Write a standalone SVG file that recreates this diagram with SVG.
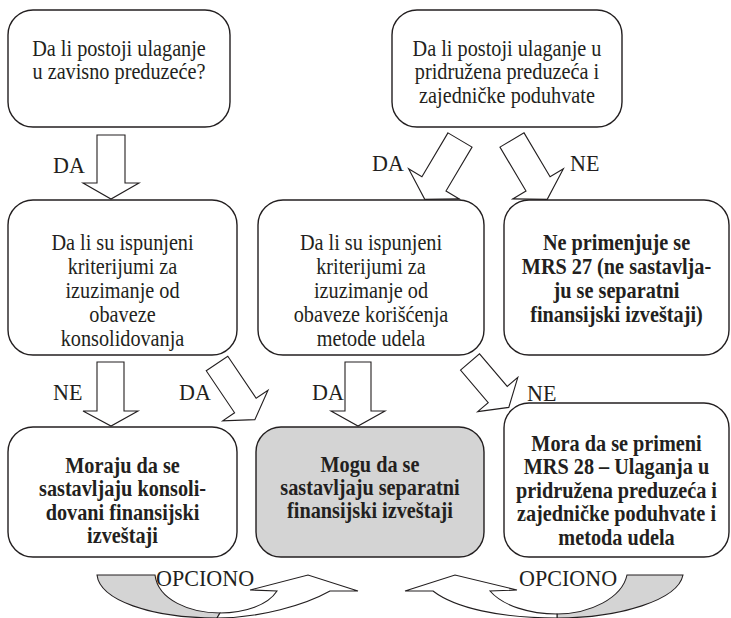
<svg xmlns="http://www.w3.org/2000/svg" width="731" height="618" viewBox="0 0 731 618">
<style>
.box{fill:#ffffff;stroke:#231f20;stroke-width:1.4}
.gray{fill:#d4d4d4}
.arr{fill:#ffffff;stroke:#231f20;stroke-width:1.1;stroke-linejoin:miter}
.carr-g{fill:#d4d4d4;stroke:#231f20;stroke-width:1.1}
.carr-w{fill:#ffffff;stroke:#231f20;stroke-width:1.1}
text{font-family:"Liberation Serif","Times New Roman",serif;font-size:22.5px;fill:#231f20}
.c{text-anchor:middle}
.b{font-weight:bold}
.lbl{font-size:24px}
</style>
<rect width="731" height="618" fill="#ffffff"/>
<g id="connectors">
  <polygon class="arr" points="97,135 125,135 125,183 139,183 111,199 83,183 97,183"/>
  <polygon class="arr" points="-14,0 14,0 14,51 29.5,51 0,69 -29.5,51 -14,51" transform="translate(460,140) rotate(30.7)"/>
  <polygon class="arr" points="-14,0 14,0 14,51 29.5,51 0,69 -29.5,51 -14,51" transform="translate(512,140) rotate(-30.7)"/>
  <polygon class="arr" points="97,362 124,362 124,411 138,411 111,426 83,411 97,411"/>
  <polygon class="arr" points="-13,0 13,0 13,50.7 27.3,50.7 0,67.7 -27.3,50.7 -13,50.7" transform="translate(217,363.5) rotate(-34)"/>
  <polygon class="arr" points="345,362 371,362 371,411 385,411 358,426 331,411 345,411"/>
  <polygon class="arr" points="-12.5,0 12.5,0 12.5,42.7 26.4,42.7 0,59.7 -26.4,42.7 -12.5,42.7" transform="translate(470,362) rotate(-40.5)"/>
  <path class="carr-g" d="M97,575 L155,575 C158,600 190,613 220,613 L217,618 C150,618 100,600 97,575 Z"/>
  <path class="carr-w" d="M220,613 C245,613 268,605 277,591 L250,590 L308,575 L358,591 L330,591 C305,605 260,618 217,618 Z"/>
  <path class="carr-g" d="M683,575 L627,575 C622,598 590,614 557,614 L557,618 C620,618 678,600 683,575 Z"/>
  <path class="carr-w" d="M557,614 C530,614 503,606 490,591 L517,590 L455,575 L405,591 L433,591 C455,608 500,618 557,618 Z"/>
  <g transform="translate(53,0) scale(0.92,1)"><text class="lbl" x="0" y="173">DA</text></g>
  <g transform="translate(372,0) scale(0.92,1)"><text class="lbl" x="0" y="171">DA</text></g>
  <g transform="translate(570,0) scale(0.92,1)"><text class="lbl" x="0" y="171">NE</text></g>
  <g transform="translate(53,0) scale(0.92,1)"><text class="lbl" x="0" y="400">NE</text></g>
  <g transform="translate(179,0) scale(0.92,1)"><text class="lbl" x="0" y="400">DA</text></g>
  <g transform="translate(312,0) scale(0.92,1)"><text class="lbl" x="0" y="400">DA</text></g>
  <g transform="translate(527,0) scale(0.92,1)"><text class="lbl" x="0" y="401">NE</text></g>
  <g transform="translate(156,0) scale(0.92,1)"><text class="lbl" x="0" y="586">OPCIONO</text></g>
  <g transform="translate(519,0) scale(0.92,1)"><text class="lbl" x="0" y="586">OPCIONO</text></g>
</g>
<g id="node-q1">
  <rect class="box" x="8" y="10" width="222" height="117" rx="25"/>
  <g transform="translate(119,0) scale(0.9,1)">
    <text class="c" x="0" y="56">Da li postoji ulaganje</text>
    <text class="c" x="0" y="79.5">u zavisno preduzeće?</text>
  </g>
</g>
<g id="node-q2">
  <rect class="box" x="392" y="10" width="230" height="117" rx="25"/>
  <g transform="translate(507,0) scale(0.9,1)">
    <text class="c" x="0" y="56">Da li postoji ulaganje u</text>
    <text class="c" x="0" y="79.5">pridružena preduzeća i</text>
    <text class="c" x="0" y="103">zajedničke poduhvate</text>
  </g>
</g>
<g id="node-q3">
  <rect class="box" x="8" y="200" width="229" height="155" rx="25"/>
  <g transform="translate(122.5,0) scale(0.9,1)">
    <text class="c" x="0" y="250">Da li su ispunjeni</text>
    <text class="c" x="0" y="274">kriterijumi za</text>
    <text class="c" x="0" y="298">izuzimanje od</text>
    <text class="c" x="0" y="322">obaveze</text>
    <text class="c" x="0" y="346">konsolidovanja</text>
  </g>
</g>
<g id="node-q4">
  <rect class="box" x="258" y="200" width="226" height="155" rx="25"/>
  <g transform="translate(371,0) scale(0.9,1)">
    <text class="c" x="0" y="250">Da li su ispunjeni</text>
    <text class="c" x="0" y="274">kriterijumi za</text>
    <text class="c" x="0" y="298">izuzimanje od</text>
    <text class="c" x="0" y="322">obaveze korišćenja</text>
    <text class="c" x="0" y="346">metode udela</text>
  </g>
</g>
<g id="node-r1">
  <rect class="box" x="504" y="200" width="225" height="155" rx="25"/>
  <g transform="translate(616.5,0) scale(0.9,1)">
    <text class="c b" x="0" y="250">Ne primenjuje se</text>
    <text class="c b" x="0" y="274">MRS 27 (ne sastavlja-</text>
    <text class="c b" x="0" y="298">ju se separatni</text>
    <text class="c b" x="0" y="322">finansijski izveštaji)</text>
  </g>
</g>
<g id="node-r2">
  <rect class="box" x="8" y="427" width="229" height="130" rx="25"/>
  <g transform="translate(122.5,0) scale(0.9,1)">
    <text class="c b" x="0" y="473">Moraju da se</text>
    <text class="c b" x="0" y="496.5">sastavljaju konsoli-</text>
    <text class="c b" x="0" y="520">dovani finansijski</text>
    <text class="c b" x="0" y="543.5">izveštaji</text>
  </g>
</g>
<g id="node-r3">
  <rect class="box gray" x="256" y="427" width="228" height="130" rx="25"/>
  <g transform="translate(370,0) scale(0.9,1)">
    <text class="c b" x="0" y="472">Mogu da se</text>
    <text class="c b" x="0" y="495">sastavljaju separatni</text>
    <text class="c b" x="0" y="518">finansijski izveštaji</text>
  </g>
</g>
<g id="node-r4">
  <rect class="box" x="504" y="403" width="225" height="154" rx="25"/>
  <g transform="translate(616.5,0) scale(0.9,1)">
    <text class="c b" x="0" y="451">Mora da se primeni</text>
    <text class="c b" x="0" y="474.5">MRS 28 – Ulaganja u</text>
    <text class="c b" x="0" y="498">pridružena preduzeća i</text>
    <text class="c b" x="0" y="521.5">zajedničke poduhvate i</text>
    <text class="c b" x="0" y="545">metoda udela</text>
  </g>
</g>
</svg>
